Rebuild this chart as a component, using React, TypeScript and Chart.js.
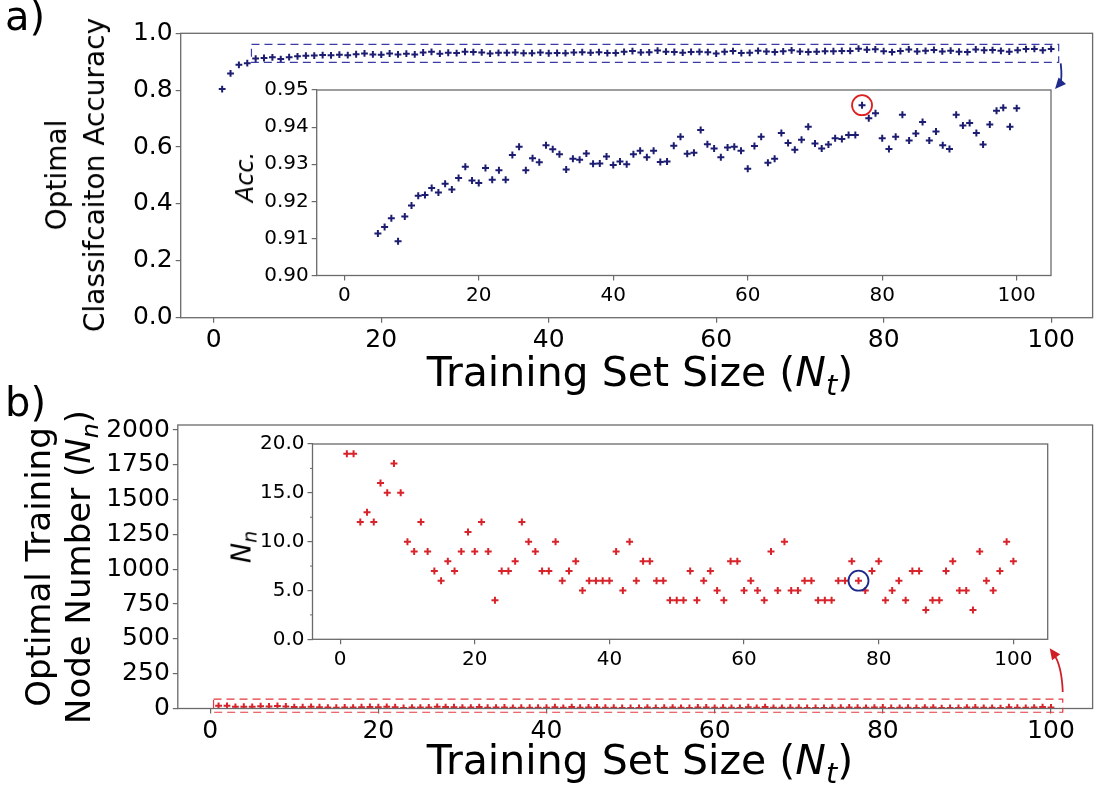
import React, { useEffect, useRef } from 'react';
import { Chart, registerables } from 'chart.js';

Chart.register(...registerables);

// ---------------- data ----------------
const trainingSetSize = [
  1, 2, 3, 4, 5, 6, 7, 8, 9, 10, 11, 12, 13, 14, 15, 16, 17, 18, 19, 20,
  21, 22, 23, 24, 25, 26, 27, 28, 29, 30, 31, 32, 33, 34, 35, 36, 37, 38, 39, 40,
  41, 42, 43, 44, 45, 46, 47, 48, 49, 50, 51, 52, 53, 54, 55, 56, 57, 58, 59, 60,
  61, 62, 63, 64, 65, 66, 67, 68, 69, 70, 71, 72, 73, 74, 75, 76, 77, 78, 79, 80,
  81, 82, 83, 84, 85, 86, 87, 88, 89, 90, 91, 92, 93, 94, 95, 96, 97, 98, 99, 100,
];

const accuracy = [
  0.804, 0.859, 0.889, 0.895, 0.9113, 0.9131, 0.9154, 0.9092, 0.9159, 0.9189,
  0.9215, 0.9217, 0.9236, 0.9224, 0.9247, 0.9232, 0.9263, 0.9293, 0.9256, 0.9249,
  0.929, 0.9258, 0.9284, 0.9258, 0.9325, 0.9347, 0.9284, 0.9316, 0.9305, 0.9351,
  0.934, 0.9327, 0.9286, 0.9315, 0.9312, 0.9329, 0.9301, 0.9302, 0.9321, 0.9298,
  0.9307, 0.93, 0.9327, 0.9336, 0.9319, 0.9336, 0.9306, 0.9307, 0.935, 0.9374,
  0.9328, 0.9331, 0.9392, 0.9354, 0.9342, 0.9319, 0.9345, 0.9347, 0.9336, 0.9288,
  0.9349, 0.9374, 0.9304, 0.9315, 0.9384, 0.9357, 0.9339, 0.9366, 0.9401, 0.9356,
  0.9342, 0.9353, 0.937, 0.9368, 0.9379, 0.9379, 0.9459, 0.9424, 0.9437, 0.937,
  0.9341, 0.9374, 0.9433, 0.9364, 0.9383, 0.9414, 0.9364, 0.9388, 0.9351, 0.9341,
  0.9433, 0.9404, 0.9411, 0.9384, 0.9353, 0.9407, 0.9444, 0.9452, 0.9401, 0.9451,
];

const nodeNumber = [
  19, 19, 12, 13, 12, 16, 15, 18, 15, 10,
  9, 12, 9, 7, 6, 8, 7, 9, 11, 9,
  12, 9, 4, 7, 7, 8, 12, 10, 9, 7,
  7, 10, 6, 7, 8, 5, 6, 6, 6, 6,
  9, 5, 10, 6, 8, 8, 6, 6, 4, 4,
  4, 7, 4, 6, 7, 5, 4, 8, 8, 5,
  6, 5, 4, 9, 5, 10, 5, 5, 6, 6,
  4, 4, 4, 6, 6, 8, 6, 5, 7, 8,
  4, 5, 6, 4, 7, 7, 3, 4, 4, 7,
  8, 5, 5, 3, 9, 6, 5, 7, 10, 8,
];

const sizeTicks = [0, 20, 40, 60, 80, 100];
const accTicks = [0, 0.2, 0.4, 0.6, 0.8, 1.0];
const accInsetTicks = [0.9, 0.91, 0.92, 0.93, 0.94, 0.95];
const nodeTicks = [0, 250, 500, 750, 1000, 1250, 1500, 1750, 2000];
const nodeInsetTicks = [0, 5, 10, 15, 20];
const nodeInsetMinorTicks = [2.5, 7.5, 12.5, 17.5];

// zoom boxes (data coordinates of the main panels) and highlighted sample
const accZoomBox = { x0: 4.5, x1: 100.9, y0: 0.898, y1: 0.961 };
const nodeZoomBox = { x0: 0.4, x1: 101.4, y0: -27, y1: 68 };
const highlightedSize = 77;

// ---------------- styling ----------------
const FONT = "'DejaVu Sans', Verdana, sans-serif";
const NAVY = '#1c1c70';
const RED = '#d8232a';
const SPINE = '#6a6a6a';

type Area = { l: number; t: number; r: number; b: number };
type Layout = { left: number; top: number; width: number; height: number; area: Area };

const MAIN_A: Layout = { left: 0, top: 0, width: 1098, height: 362, area: { l: 180.7, t: 33.3, r: 1096.5, b: 317.7 } };
const INSET_A: Layout = { left: 200, top: 58, width: 880, height: 262, area: { l: 316.7, t: 90, r: 1051, b: 275.5 } };
const MAIN_B: Layout = { left: 0, top: 385, width: 1098, height: 370, area: { l: 177.8, t: 425, r: 1093.4, b: 708.5 } };
const INSET_B: Layout = { left: 200, top: 414, width: 880, height: 272, area: { l: 312.5, t: 444, r: 1047.7, b: 639.3 } };

function drawArrow(ctx: CanvasRenderingContext2D, p0: any, c: any, p2: any, color: string) {
  const ang = Math.atan2(p2.y - c.y, p2.x - c.x);
  const L = 11, W = 5;
  const bx = p2.x - L * 0.6 * Math.cos(ang), by = p2.y - L * 0.6 * Math.sin(ang);
  ctx.save();
  ctx.strokeStyle = color;
  ctx.fillStyle = color;
  ctx.lineWidth = 1.8;
  ctx.beginPath();
  ctx.moveTo(p0.x, p0.y);
  ctx.quadraticCurveTo(c.x, c.y, bx, by);
  ctx.stroke();
  ctx.beginPath();
  ctx.moveTo(p2.x, p2.y);
  ctx.lineTo(p2.x - L * Math.cos(ang) + W * Math.sin(ang), p2.y - L * Math.sin(ang) - W * Math.cos(ang));
  ctx.lineTo(p2.x - L * Math.cos(ang) - W * Math.sin(ang), p2.y - L * Math.sin(ang) + W * Math.cos(ang));
  ctx.closePath();
  ctx.fill();
  ctx.restore();
}

function drawDashedBox(chart: any, box: any, color: string) {
  const { ctx, scales } = chart;
  const x0 = scales.x.getPixelForValue(box.x0);
  const x1 = scales.x.getPixelForValue(box.x1);
  const y0 = scales.y.getPixelForValue(box.y0);
  const y1 = scales.y.getPixelForValue(box.y1);
  ctx.save();
  ctx.strokeStyle = color;
  ctx.lineWidth = 1.2;
  ctx.setLineDash([8, 5]);
  ctx.strokeRect(x0, y1, x1 - x0, y0 - y1);
  ctx.restore();
  return { x0, x1, y0, y1 };
}

function drawCircle(chart: any, xv: number, yv: number, color: string) {
  const { ctx, scales } = chart;
  const x = scales.x.getPixelForValue(xv);
  const y = scales.y.getPixelForValue(yv);
  ctx.save();
  ctx.strokeStyle = color;
  ctx.lineWidth = 1.8;
  ctx.beginPath();
  ctx.arc(x, y, 10, 0, Math.PI * 2);
  ctx.stroke();
  ctx.restore();
}

type Cfg = {
  layout: Layout;
  ys: number[];
  color: string;
  radius: number;
  xMin: number; xMax: number;
  yMin: number; yMax: number;
  yTicks: number[];
  yFmt: (v: number) => string;
  fontSize: number;
  fill: boolean;
  draw?: (chart: any) => void;
};

function buildChart(canvas: HTMLCanvasElement, cfg: Cfg) {
  const L = cfg.layout;
  const yAxisW = L.area.l - L.left;
  const xAxisH = L.top + L.height - L.area.b;
  const padTop = L.area.t - L.top;
  const padRight = L.left + L.width - L.area.r;
  const tickFont = { family: FONT, size: cfg.fontSize };
  const grid = { display: true, drawOnChartArea: false, drawTicks: true, tickLength: 5, color: SPINE, lineWidth: 1.2 };

  const decor = {
    id: 'decor',
    beforeDraw(chart: any) {
      if (!cfg.fill) return;
      const { ctx, chartArea: a } = chart;
      ctx.save();
      ctx.fillStyle = '#ffffff';
      ctx.fillRect(a.left, a.top, a.right - a.left, a.bottom - a.top);
      ctx.restore();
    },
    afterDraw(chart: any) {
      const { ctx, chartArea: a } = chart;
      ctx.save();
      ctx.strokeStyle = SPINE;
      ctx.lineWidth = 1.3;
      ctx.strokeRect(a.left, a.top, a.right - a.left, a.bottom - a.top);
      ctx.restore();
      if (cfg.draw) cfg.draw(chart);
    },
  };

  return new Chart(canvas, {
    type: 'scatter',
    data: {
      datasets: [
        {
          data: trainingSetSize.map((x, i) => ({ x, y: cfg.ys[i] })),
          pointStyle: 'cross',
          pointRadius: cfg.radius,
          pointHoverRadius: cfg.radius,
          pointBorderWidth: 2,
          borderColor: cfg.color,
          backgroundColor: cfg.color,
          showLine: false,
          clip: 0,
        } as any,
      ],
    },
    options: {
      responsive: false,
      animation: false,
      devicePixelRatio: 1,
      layout: { padding: { top: padTop, right: padRight, left: 0, bottom: 0 } },
      plugins: { legend: { display: false }, tooltip: { enabled: false } },
      events: [],
      scales: {
        x: {
          type: 'linear',
          min: cfg.xMin,
          max: cfg.xMax,
          afterBuildTicks: (s: any) => { s.ticks = sizeTicks.map((v) => ({ value: v })); },
          afterFit: (s: any) => { s.height = xAxisH; },
          grid,
          border: { display: false },
          ticks: { font: tickFont, color: '#000', padding: 3, maxRotation: 0, autoSkip: false, callback: (v: any) => String(v) },
        },
        y: {
          type: 'linear',
          min: cfg.yMin,
          max: cfg.yMax,
          afterBuildTicks: (s: any) => { s.ticks = cfg.yTicks.map((v) => ({ value: v })); },
          afterFit: (s: any) => { s.width = yAxisW; },
          grid,
          border: { display: false },
          ticks: { font: tickFont, color: '#000', padding: 3, autoSkip: false, callback: (v: any) => cfg.yFmt(Number(v)) },
        },
      },
    } as any,
    plugins: [decor],
  });
}

const hlIndex = trainingSetSize.indexOf(highlightedSize);

function canvasStyle(L: Layout): React.CSSProperties {
  return { position: 'absolute', left: L.left, top: L.top, width: L.width, height: L.height };
}

const titleStyle: React.CSSProperties = {
  position: 'absolute',
  fontFamily: FONT,
  fontSize: 32,
  color: '#000',
  whiteSpace: 'nowrap',
  lineHeight: 1,
};

function rot(cx: number, cy: number, extra: React.CSSProperties = {}): React.CSSProperties {
  return {
    ...titleStyle,
    left: cx,
    top: cy,
    transform: 'translate(-50%, -50%) rotate(-90deg)',
    textAlign: 'center',
    ...extra,
  };
}

const subStyle: React.CSSProperties = { fontSize: '0.7em', fontStyle: 'italic', lineHeight: 0 };

export default function App() {
  const mainA = useRef<HTMLCanvasElement>(null);
  const insetA = useRef<HTMLCanvasElement>(null);
  const mainB = useRef<HTMLCanvasElement>(null);
  const insetB = useRef<HTMLCanvasElement>(null);

  useEffect(() => {
    const charts: Chart[] = [];

    charts.push(buildChart(mainA.current!, {
      layout: MAIN_A, ys: accuracy, color: NAVY, radius: 3.4,
      xMin: -3.95, xMax: 104.95, yMin: 0, yMax: 1, yTicks: accTicks,
      yFmt: (v) => v.toFixed(1), fontSize: 25, fill: false,
      draw: (chart) => {
        const b = drawDashedBox(chart, accZoomBox, '#3b3ba6');
        const endX = INSET_A.area.r + 4 - MAIN_A.left;
        const endY = INSET_A.area.t - 1 - MAIN_A.top;
        drawArrow(chart.ctx, { x: b.x1 + 2, y: b.y0 + 1 }, { x: b.x1 + 4, y: b.y0 + 18 }, { x: endX, y: endY }, '#1f2a8a');
      },
    }));

    charts.push(buildChart(insetA.current!, {
      layout: INSET_A, ys: accuracy, color: NAVY, radius: 3.5,
      xMin: -4.1, xMax: 105.1, yMin: 0.9, yMax: 0.95, yTicks: accInsetTicks,
      yFmt: (v) => v.toFixed(2), fontSize: 20, fill: true,
      draw: (chart) => {
        drawCircle(chart, highlightedSize, accuracy[hlIndex], '#dd1f1f');
      },
    }));

    charts.push(buildChart(mainB.current!, {
      layout: MAIN_B, ys: nodeNumber, color: RED, radius: 3.4,
      xMin: -3.85, xMax: 104.95, yMin: 0, yMax: 2036, yTicks: nodeTicks,
      yFmt: (v) => String(Math.round(v)), fontSize: 25, fill: false,
      draw: (chart) => {
        const b = drawDashedBox(chart, nodeZoomBox, '#e2383d');
        const endX = INSET_B.area.r + 2 - MAIN_B.left;
        const endY = INSET_B.area.b + 9 - MAIN_B.top;
        drawArrow(chart.ctx, { x: b.x1, y: b.y1 - 7 }, { x: b.x1 - 1, y: b.y1 - 34 }, { x: endX, y: endY }, '#d11f26');
      },
    }));

    charts.push(buildChart(insetB.current!, {
      layout: INSET_B, ys: nodeNumber, color: RED, radius: 3.5,
      xMin: -4.1, xMax: 105.1, yMin: 0, yMax: 20, yTicks: nodeInsetTicks,
      yFmt: (v) => v.toFixed(1), fontSize: 20, fill: true,
      draw: (chart) => {
        const { ctx, chartArea: a, scales } = chart;
        ctx.save();
        ctx.strokeStyle = SPINE;
        ctx.lineWidth = 1;
        nodeInsetMinorTicks.forEach((v) => {
          const y = scales.y.getPixelForValue(v);
          ctx.beginPath();
          ctx.moveTo(a.left - 2.5, y);
          ctx.lineTo(a.left, y);
          ctx.stroke();
        });
        ctx.restore();
        drawCircle(chart, highlightedSize, nodeNumber[hlIndex], '#1c2a8c');
      },
    }));

    return () => charts.forEach((c) => c.destroy());
  }, []);

  return (
    <div style={{ position: 'absolute', left: 0, top: 0, width: 1098, height: 795, background: '#fff', overflow: 'hidden' }}>
      <canvas ref={mainA} width={MAIN_A.width} height={MAIN_A.height} style={canvasStyle(MAIN_A)} />
      <canvas ref={mainB} width={MAIN_B.width} height={MAIN_B.height} style={canvasStyle(MAIN_B)} />
      <canvas ref={insetA} width={INSET_A.width} height={INSET_A.height} style={canvasStyle(INSET_A)} />
      <canvas ref={insetB} width={INSET_B.width} height={INSET_B.height} style={canvasStyle(INSET_B)} />

      <div style={{ ...titleStyle, fontSize: 40, left: 5, top: -4 }}>a)</div>
      <div style={{ ...titleStyle, fontSize: 40, left: 5, top: 382 }}>b)</div>

      <div style={rot(76, 175, { fontSize: 28, lineHeight: '38px' })}>Optimal<br />Classifcaiton Accuracy</div>
      <div style={rot(58, 567, { fontSize: 34, lineHeight: '40px' })}>Optimal Training<br />Node Number (<i>N</i><sub style={subStyle}>n</sub>)</div>

      <div style={{ ...titleStyle, fontSize: 41, left: 640, top: 372, transform: 'translate(-50%, -50%)' }}>
        Training Set Size (<i>N</i><sub style={subStyle}>t</sub>)
      </div>
      <div style={{ ...titleStyle, fontSize: 41, left: 640, top: 760, transform: 'translate(-50%, -50%)' }}>
        Training Set Size (<i>N</i><sub style={subStyle}>t</sub>)
      </div>

      <div style={rot(245, 177, { fontSize: 24, fontStyle: 'italic' })}>Acc.</div>
      <div style={rot(241, 547, { fontSize: 27, fontStyle: 'italic' })}>N<sub style={{ fontSize: '0.7em', lineHeight: 0 }}>n</sub></div>
    </div>
  );
}
